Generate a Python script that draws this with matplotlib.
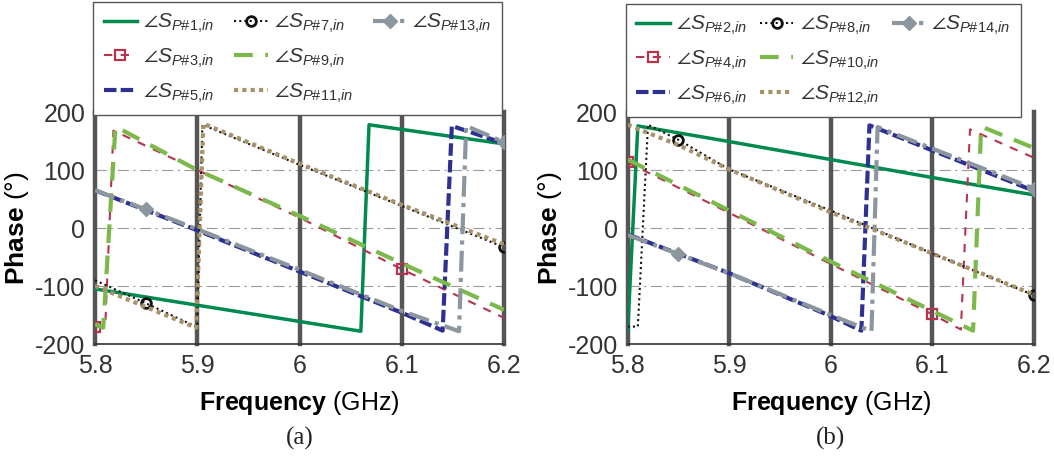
import matplotlib
matplotlib.use("Agg")
import matplotlib.pyplot as plt
from matplotlib.lines import Line2D

plt.rcParams['font.family'] = ['Liberation Sans', 'DejaVu Sans']
plt.rcParams['mathtext.fontset'] = 'custom'
plt.rcParams['mathtext.rm'] = 'Liberation Sans'
plt.rcParams['mathtext.it'] = 'Liberation Sans:italic'
plt.rcParams['mathtext.bf'] = 'Liberation Sans:bold'
plt.rcParams['text.color'] = '#333333'
plt.rcParams['axes.unicode_minus'] = False

# ---- panel (a): odd ports ----
f_p1 = [5.8, 6.06, 6.068, 6.2]
ph_p1 = [-105, -178, 178, 145]
f_p3 = [5.8, 5.81, 5.818, 5.9, 6.0, 6.1, 6.2]
ph_p3 = [-170, -170, 168, 100, 18, -71, -155]
f_p5 = [5.8, 5.9, 6.0, 6.1, 6.14, 6.149, 6.2]
ph_p5 = [65, -4, -75, -146, -177, 176, 146]
f_p7 = [5.8, 5.85, 5.9, 5.905, 6.0, 6.1, 6.2]
ph_p7 = [-90, -130, -171, 178, 109, 38, -33]
f_p9 = [5.8, 5.808, 5.82, 5.9, 6.0, 6.1, 6.2]
ph_p9 = [-166, -172, 175, 100, 21, -61, -141]
f_p11 = [5.8, 5.899, 5.906, 6.0, 6.1, 6.2]
ph_p11 = [-100, -172, 180, 111, 40, -28]
f_p13 = [5.8, 5.85, 5.9, 6.0, 6.1, 6.156, 6.163, 6.2]
ph_p13 = [65, 32, -2, -72, -143, -178, 176, 148]

# ---- panel (b): even ports ----
f_p2 = [5.8, 5.81, 5.9, 6.0, 6.1, 6.2]
ph_p2 = [-178, 176, 149, 118, 87, 57]
f_p4 = [5.8, 5.9, 6.0, 6.1, 6.128, 6.137, 6.2]
ph_p4 = [113, 26, -62, -149, -175, 170, 121]
f_p6 = [5.8, 5.9, 6.0, 6.03, 6.038, 6.2]
ph_p6 = [-11, -78, -152, -177, 177, 64]
f_p8 = [5.8, 5.81, 5.82, 5.85, 5.9, 6.0, 6.1, 6.2]
ph_p8 = [-170, -170, 178, 152, 101, 30, -44, -116]
f_p10 = [5.8, 5.9, 6.0, 6.1, 6.14, 6.148, 6.2]
ph_p10 = [118, 30, -58, -143, -177, 175, 138]
f_p12 = [5.8, 5.85, 5.9, 6.0, 6.1, 6.2]
ph_p12 = [178, 143, 101, 27, -44, -115]
f_p14 = [5.8, 5.85, 5.9, 6.0, 6.04, 6.046, 6.2]
ph_p14 = [-12, -45, -78, -150, -178, 174, 68]

xticks = [5.8, 5.9, 6.0, 6.1, 6.2]
xticklabels = ['5.8', '5.9', '6', '6.1', '6.2']
yticks = [-200, -100, 0, 100, 200]

styles = {
    'solid': dict(color='#008a4e', lw=2.5, ls='-'),
    'red': dict(color='#b8334e', lw=1.5, ls=(0, (4, 4)), marker='s', ms=7, mfc='none', mew=1.6),
    'blue': dict(color='#2e3192', lw=3, ls=(0, (3, 1))),
    'black': dict(color='#111111', lw=1.5, ls=(0, (1, 1.5)), marker='o', ms=7, mfc='none', mew=2),
    'lgreen': dict(color='#7cb84a', lw=3, ls=(0, (4.5, 3))),
    'tan': dict(color='#a8926a', lw=3, ls=(0, (1, 1))),
    'gray': dict(color='#8c969f', lw=3, ls=(0, (5, 1.5, 1, 1.5)), marker='D', ms=7),
}


def lab(n):
    return r'$\angle S_{P\#%d{,}in}$' % n


panels = [
    dict(rect=[95 / 1054, 122 / 466, 409 / 1054, 232 / 466],
         leg=(93.3 / 1054, 351 / 466, 408.7 / 1054, 110 / 466), tag='(a)',
         series=[(f_p1, ph_p1, 'solid', 1, None),
                 (f_p3, ph_p3, 'red', 3, [0, 5]),
                 (f_p5, ph_p5, 'blue', 5, None),
                 (f_p7, ph_p7, 'black', 7, [1, 6]),
                 (f_p9, ph_p9, 'lgreen', 9, None),
                 (f_p11, ph_p11, 'tan', 11, None),
                 (f_p13, ph_p13, 'gray', 13, [1, 7])]),
    dict(rect=[627.7 / 1054, 122 / 466, 406.3 / 1054, 232 / 466],
         leg=(626 / 1054, 349 / 466, 395 / 1054, 110 / 466), tag='(b)',
         series=[(f_p2, ph_p2, 'solid', 2, None),
                 (f_p4, ph_p4, 'red', 4, [0, 3]),
                 (f_p6, ph_p6, 'blue', 6, None),
                 (f_p8, ph_p8, 'black', 8, [3, 7]),
                 (f_p10, ph_p10, 'lgreen', 10, None),
                 (f_p12, ph_p12, 'tan', 12, None),
                 (f_p14, ph_p14, 'gray', 14, [1, 6])]),
]

fig = plt.figure(figsize=(10.54, 4.66), dpi=100)

for p in panels:
    ax = fig.add_axes(p['rect'])
    ax.set_xlim(5.8, 6.2)
    ax.set_ylim(-200, 200)
    for y in [-100, 0, 100]:
        ax.axhline(y, color='#9a9a9a', lw=0.8, ls=(0, (10, 4, 2, 4)), zorder=1)
    for x in xticks:
        ax.axvline(x, color='#555555', lw=3.2, zorder=1.5, clip_on=False)
    handles = []
    for f, ph, st, n, mk in p['series']:
        h, = ax.plot(f, ph, label=lab(n), markevery=mk, zorder=2, **styles[st])
        handles.append(h)
    blank = Line2D([], [], ls='none', label=' ')
    handles += [blank, blank]
    ax.legend(handles=handles, ncol=3, loc='lower left', mode='expand',
              bbox_to_anchor=p['leg'], bbox_transform=fig.transFigure,
              borderaxespad=0, fontsize=15, handlelength=1.6, handletextpad=0.3,
              columnspacing=0.3, labelspacing=0.55, borderpad=0.5,
              fancybox=False, framealpha=1, edgecolor='#555555')
    for s in ['top', 'left', 'right']:
        ax.spines[s].set_visible(False)
    ax.spines['bottom'].set_color('#333333')
    ax.spines['bottom'].set_linewidth(1.2)
    ax.set_xticks(xticks)
    ax.set_xticklabels(xticklabels)
    ax.set_yticks(yticks)
    ax.tick_params(length=0, labelsize=18, labelcolor='#333333', pad=7)
    ax.set_xlabel(r'$\bf{Frequency}$ (GHz)', fontsize=18, labelpad=8)
    ax.set_ylabel(r'$\bf{Phase}$ (°)', fontsize=19, labelpad=3)
    r = p['rect']
    fig.text(r[0] + r[2] / 2, 28 / 466, p['tag'], ha='center', va='center',
             fontsize=18, family='Liberation Serif', color='#222222')

fig.savefig('out.png', dpi=100)
